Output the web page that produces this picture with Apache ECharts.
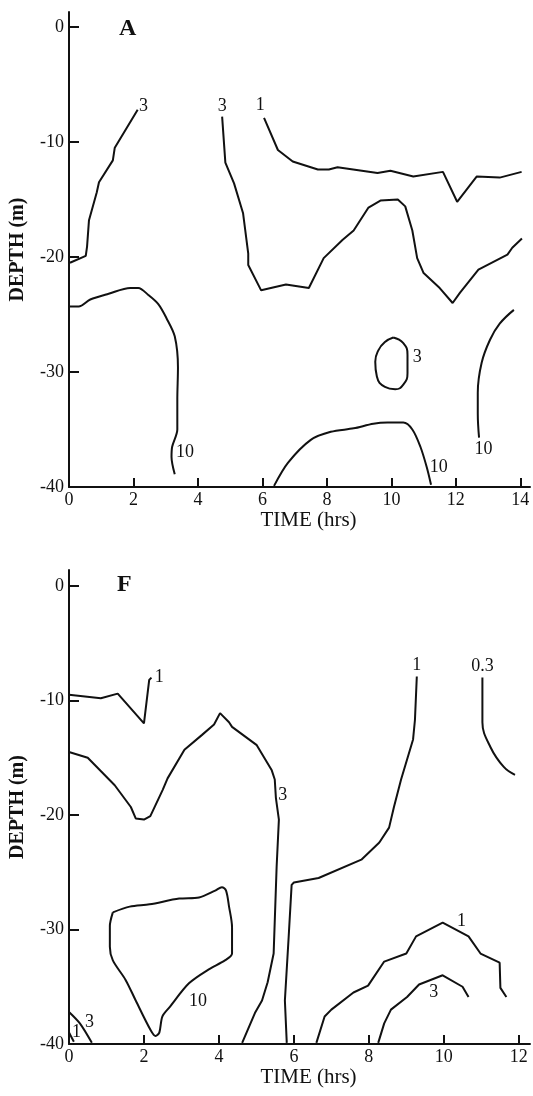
<!DOCTYPE html>
<html>
<head>
<meta charset="utf-8">
<script src="https://cdn.jsdelivr.net/npm/echarts@6/dist/echarts.min.js"></script>
<style>
  html, body { margin: 0; padding: 0; background: #fff; }
  #chart { width: 533px; height: 1096px; }
</style>
</head>
<body>
<div id="chart"></div>
<script>
// Tick values
var depthTicks = [-40, -30, -20, -10, 0];
var timeTicksA = [0, 2, 4, 6, 8, 10, 12, 14];
var timeTicksF = [0, 2, 4, 6, 8, 10, 12];

// Panel A contours: [time (hrs), depth (m)]
var a3Left = [[2.13,-7.2],[1.42,-10.5],[1.36,-11.6],[0.93,-13.5],[0.86,-14.4],[0.62,-16.8],[0.56,-19.1],[0.52,-19.9],[0.03,-20.5]];
var a3Mid = [[4.75,-7.8],[4.85,-11.8],[5.12,-13.6],[5.4,-16.2],[5.56,-19.7],[5.56,-20.7],[5.96,-22.9],[6.73,-22.4],[7.44,-22.7],[7.9,-20.1],[8.49,-18.5],[8.83,-17.7],[9.29,-15.7],[9.66,-15.1],[10.2,-15.0],[10.43,-15.6],[10.65,-17.7],[10.8,-20.1],[11.0,-21.4],[11.5,-22.7],[11.9,-24.0],[12.13,-23.1],[12.7,-21.1],[13.6,-19.8],[13.75,-19.2],[14.05,-18.4]];
var a1Top = [[6.05,-7.9],[6.48,-10.7],[6.94,-11.7],[7.72,-12.4],[8.06,-12.4],[8.33,-12.2],[9.57,-12.7],[9.97,-12.5],[10.68,-13.0],[11.6,-12.6],[12.04,-15.2],[12.65,-13.0],[13.36,-13.1],[14.04,-12.6]];
var a10Left = [[0.03,-24.3],[0.3,-24.3],[0.66,-23.7],[1.23,-23.2],[1.9,-22.7],[2.15,-22.7],[2.46,-23.3],[2.77,-24.1],[3.02,-25.3],[3.28,-26.9],[3.38,-29.6],[3.36,-32.4],[3.36,-35],[3.2,-36.5],[3.18,-37.4],[3.28,-38.9]];
var a3Loop = [[10.06,-27.0],[10.37,-27.5],[10.5,-28.5],[10.5,-30.1],[10.37,-31.1],[10.12,-31.5],[9.8,-31.3],[9.55,-30.4],[9.5,-29.1],[9.6,-28.1],[9.8,-27.4],[10.06,-27.0]];
var a10Right = [[13.8,-24.6],[13.36,-25.8],[13.06,-27.2],[12.8,-29.2],[12.68,-31.8],[12.68,-33.6],[12.72,-35.7]];
var a10Bottom = [[6.36,-39.9],[6.79,-37.9],[7.5,-35.9],[8.12,-35.2],[8.83,-34.9],[9.44,-34.5],[9.88,-34.4],[10.37,-34.4],[10.65,-35.0],[10.9,-36.5],[11.1,-38.3],[11.23,-39.8]];
var labelsA = [[2.31,-6.9,'3'],[4.75,-6.9,'3'],[5.93,-6.8,'1'],[3.6,-37.0,'10'],[10.8,-28.7,'3'],[12.86,-36.7,'10'],[11.47,-38.3,'10']];

// Panel F contours: [time (hrs), depth (m)]
var f1Top = [[0,-9.5],[0.85,-9.8],[1.3,-9.4],[2.0,-12.0],[2.14,-8.2],[2.2,-8.0]];
var f3Main = [[0,-14.5],[0.5,-15.0],[1.22,-17.4],[1.65,-19.3],[1.78,-20.3],[2.0,-20.4],[2.17,-20.1],[2.5,-17.8],[2.63,-16.8],[3.08,-14.3],[3.55,-13.0],[3.87,-12.1],[4.03,-11.1],[4.27,-11.9],[4.35,-12.3],[5.01,-13.9],[5.41,-16.1],[5.49,-16.9],[5.52,-18.5],[5.6,-20.4],[5.54,-24.5],[5.46,-32.1],[5.3,-34.6],[5.15,-36.2],[4.96,-37.3],[4.62,-39.9]];
var f10Loop = [[1.17,-28.5],[1.62,-28.0],[2.15,-27.8],[2.94,-27.3],[3.47,-27.2],[3.9,-26.6],[4.08,-26.3],[4.19,-26.6],[4.27,-28.0],[4.35,-29.8],[4.35,-32.1],[4.16,-32.7],[3.72,-33.5],[3.2,-34.7],[2.68,-36.8],[2.49,-37.6],[2.41,-39.0],[2.31,-39.3],[2.18,-38.8],[1.78,-36.2],[1.51,-34.4],[1.17,-32.7],[1.09,-31.5],[1.09,-29.7],[1.17,-28.5]];
var f1Mid = [[9.28,-7.9],[9.23,-11.7],[9.18,-13.4],[9.07,-14.6],[8.86,-16.9],[8.67,-19.3],[8.54,-21.1],[8.28,-22.4],[7.8,-23.9],[6.66,-25.5],[6.0,-25.9],[5.94,-26.1],[5.86,-30.7],[5.76,-36.2],[5.81,-39.9]];
var f03 = [[11.03,-8.0],[11.03,-11.9],[11.25,-14.1],[11.6,-15.8],[11.9,-16.5]];
var f1Arch = [[6.6,-39.9],[6.82,-37.6],[7.0,-37.0],[7.59,-35.5],[7.98,-34.9],[8.41,-32.8],[9.0,-32.1],[9.26,-30.6],[9.97,-29.4],[10.66,-30.6],[10.98,-32.1],[11.49,-32.9],[11.51,-35.1],[11.67,-35.9]];
var f3Arch = [[8.25,-39.9],[8.41,-38.2],[8.59,-37.0],[9.02,-35.9],[9.34,-34.8],[9.97,-34.0],[10.5,-35.0],[10.66,-35.9]];
var f3Corner = [[0,-37.2],[0.29,-38.2],[0.61,-39.9]];
var f1Corner = [[0,-39.0],[0.13,-39.8]];
var labelsF = [[2.41,-7.95,'1'],[5.7,-18.3,'3'],[3.44,-36.3,'10'],[9.28,-6.9,'1'],[11.03,-7.0,'0.3'],[10.47,-29.3,'1'],[9.73,-35.5,'3'],[0.55,-38.1,'3'],[0.2,-39.0,'1']];

var FONT = '"Liberation Serif", "DejaVu Serif", serif';
var INK = '#111';

function xAxis(gridIndex, max, ticks) {
  return {
    type: 'value', gridIndex: gridIndex, min: 0, max: max,
    name: 'TIME (hrs)', nameLocation: 'middle', nameGap: 22,
    nameTextStyle: { fontFamily: FONT, fontSize: 21, color: INK, padding: [0, 0, 0, 18] },
    axisLine: { onZero: false, lineStyle: { color: INK, width: 2 } },
    axisTick: { inside: true, length: 9, customValues: ticks, lineStyle: { color: INK, width: 2 } },
    axisLabel: { customValues: ticks, margin: 4, fontFamily: FONT, fontSize: 18, color: INK },
    splitLine: { show: false }
  };
}
function yAxis(gridIndex, max) {
  return {
    type: 'value', gridIndex: gridIndex, min: -40, max: max,
    name: 'DEPTH (m)', nameLocation: 'middle', nameGap: 41,
    nameTextStyle: { fontFamily: FONT, fontSize: 20, fontWeight: 'bold', color: INK },
    axisLine: { onZero: false, lineStyle: { color: INK, width: 2 } },
    axisTick: { inside: true, length: 10, customValues: depthTicks, lineStyle: { color: INK, width: 2 } },
    axisLabel: { customValues: depthTicks, margin: 5, fontFamily: FONT, fontSize: 18, color: INK },
    splitLine: { show: false }
  };
}
function contour(data, gi, smooth) {
  return {
    type: 'line', xAxisIndex: gi, yAxisIndex: gi, data: data,
    symbol: 'none', smooth: smooth || false, clip: false,
    lineStyle: { color: INK, width: 2 }, silent: true
  };
}
function levelLabels(data, gi) {
  return {
    type: 'scatter', xAxisIndex: gi, yAxisIndex: gi, data: data,
    symbolSize: 0, silent: true, clip: false,
    itemStyle: { color: INK, opacity: 1 },
    label: {
      show: true, position: 'inside', color: INK,
      fontFamily: FONT, fontSize: 18,
      formatter: function (p) { return p.value[2]; }
    }
  };
}

var chart = echarts.init(document.getElementById('chart'), null, { renderer: 'canvas' });
chart.setOption({
  animation: false,
  backgroundColor: '#fff',
  title: [
    { text: 'A', left: 114, top: 12, textStyle: { fontFamily: FONT, fontSize: 24, fontWeight: 'bold', color: INK } },
    { text: 'F', left: 112, top: 568, textStyle: { fontFamily: FONT, fontSize: 24, fontWeight: 'bold', color: INK } }
  ],
  grid: [
    { left: 67, top: 12, width: 463, height: 475 },
    { left: 66, top: 570, width: 464, height: 474 }
  ],
  xAxis: [xAxis(0, 14.3, timeTicksA), xAxis(1, 12.3, timeTicksF)],
  yAxis: [yAxis(0, 1.3), yAxis(1, 1.4)],
  series: [
    contour(a3Left, 0), contour(a3Mid, 0), contour(a1Top, 0),
    contour(a10Left, 0, 0.3), contour(a3Loop, 0, 0.5), contour(a10Right, 0, 0.4),
    contour(a10Bottom, 0, 0.3),
    levelLabels(labelsA, 0),
    contour(f1Top, 1), contour(f3Main, 1), contour(f10Loop, 1, 0.3),
    contour(f1Mid, 1), contour(f03, 1, 0.4), contour(f1Arch, 1), contour(f3Arch, 1),
    contour(f3Corner, 1, 0.3), contour(f1Corner, 1),
    levelLabels(labelsF, 1)
  ]
});
</script>
</body>
</html>
